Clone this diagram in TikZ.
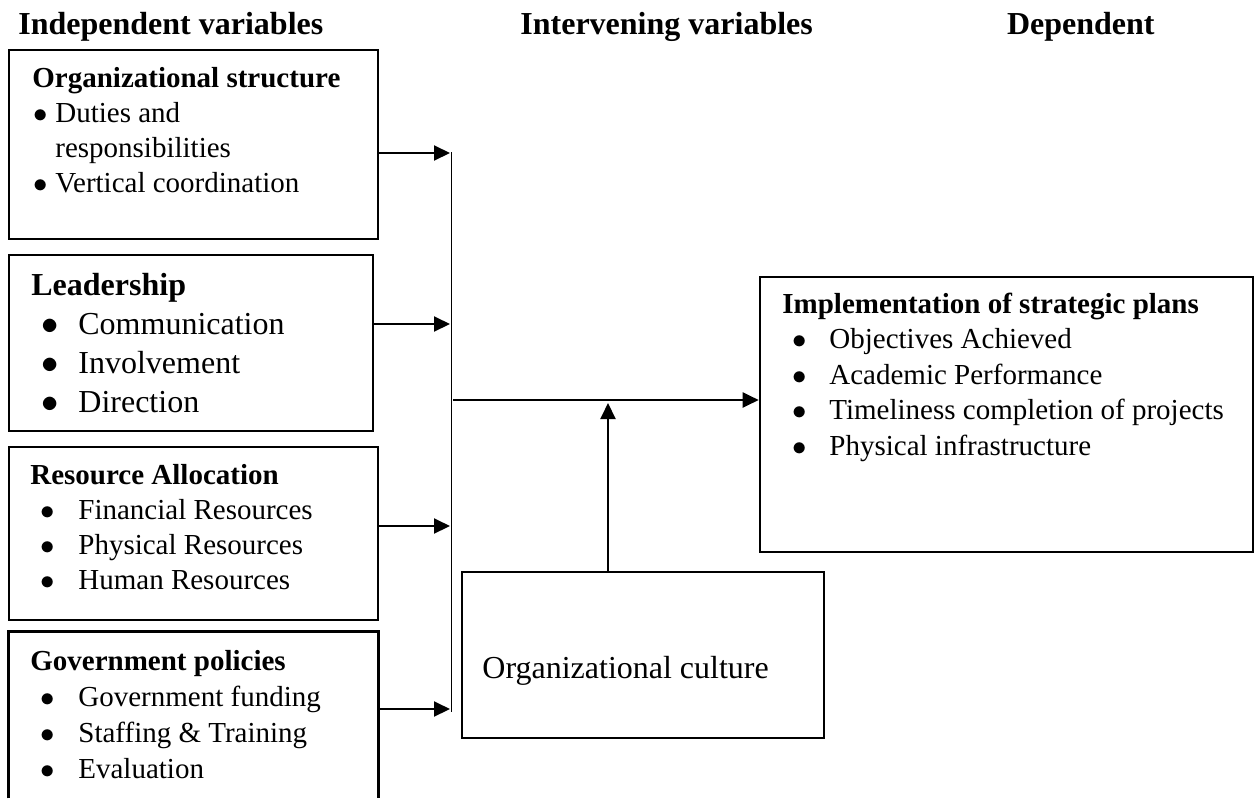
\documentclass[tikz,border=0pt]{standalone}
\usepackage{fontspec}
\setmainfont{Liberation Serif}
\usetikzlibrary{arrows.meta}
\tikzset{
  thickbox/.style={draw, line width=1.3pt, inner sep=0pt},
  thinbox/.style={draw, line width=0.7pt, inner sep=0pt},
  txt/.style={anchor=base west, align=left, inner sep=0pt,
    font=\fontsize{14.5pt}{17.5pt}\selectfont},
  bigtxt/.style={txt, font=\fontsize{16pt}{19.5pt}\selectfont},
  head/.style={anchor=base west, inner sep=0pt,
    font=\fontsize{16pt}{19pt}\selectfont\bfseries},
  feed/.style={line width=1pt, -{Triangle[length=8pt,width=7.5pt]}},
}
\newcommand\itm[2]{\hspace*{#1}\makebox[#2][l]{$\bullet$}}
\begin{document}
\begin{tikzpicture}[x=0.5pt, y=-0.5pt]
  \useasboundingbox (0,0) rectangle (1256,798);
  % column titles
  \node[head] (hind) at (18,34) {Independent variables};
  \node[head] (hint) at (520,34) {Intervening variables};
  \node[head, anchor=base east] (hdep) at (1155,34) {Dependent};
  % independent variables
  \node[thickbox, minimum width=184.5pt, minimum height=94.5pt] (orgs) at (193.5,144.5) {};
  \node[thickbox, minimum width=182pt, minimum height=88pt] (lead) at (191,343) {};
  \node[thinbox, minimum width=184.5pt, minimum height=86.5pt] (res) at (193.5,533.5) {};
  \node[inner sep=0pt, minimum width=184.5pt, minimum height=83pt] (govp) at (193.5,715) {};
  \draw[line width=1.3pt] (govp.south west) -- (govp.north west) -- (govp.north east) -- (govp.south east);
  \node[txt] (orgst) at (32,192) {\textbf{Organizational structure}\\
    \itm{0.5pt}{11pt}Duties and\\
    \hspace*{11.5pt}responsibilities\\
    \itm{0.5pt}{11pt}Vertical coordination};
  \node[bigtxt] (leadt) at (31,412) {\textbf{Leadership}\\
    \itm{5pt}{18.5pt}Communication\\
    \itm{5pt}{18.5pt}Involvement\\
    \itm{5pt}{18.5pt}Direction};
  \node[txt] (rest) at (30,589) {\textbf{Resource Allocation}\\
    \itm{5pt}{19pt}Financial Resources\\
    \itm{5pt}{19pt}Physical Resources\\
    \itm{5pt}{19pt}Human Resources};
  \node[txt, font=\fontsize{14.5pt}{18pt}\selectfont] (govt) at (30,778) {\textbf{Government policies}\\
    \itm{5pt}{19pt}Government funding\\
    \itm{5pt}{19pt}Staffing \& Training\\
    \itm{5pt}{19pt}Evaluation};
  % intervening and dependent
  \node[thinbox, minimum width=181pt, minimum height=83pt] (culture) at (643,655) {};
  \node[bigtxt] (cult) at (482,678) {Organizational culture};
  \node[thickbox, minimum width=246.5pt, minimum height=137.5pt] (impl) at (1006.5,414.5) {};
  \node[txt, font=\fontsize{14.5pt}{17.75pt}\selectfont] (implt) at (782,455) {\textbf{Implementation of strategic plans}\\
    \itm{5pt}{18.5pt}Objectives Achieved\\
    \itm{5pt}{18.5pt}Academic Performance\\
    \itm{5pt}{18.5pt}Timeliness completion of projects\\
    \itm{5pt}{18.5pt}Physical infrastructure};
  % collecting line and arrows
  \coordinate (bustop) at (451,152);
  \coordinate (busbot) at (451,712);
  \draw[line width=0.5pt] (bustop) -- (busbot);
  \coordinate (in1) at (450,153);
  \coordinate (in2) at (450,324);
  \coordinate (in3) at (450,526);
  \coordinate (in4) at (450,709);
  \draw[feed] (orgs.east |- in1) -- (in1);
  \draw[feed] (lead.east |- in2) -- (in2);
  \draw[feed] (res.east |- in3) -- (in3);
  \draw[feed] (govp.east |- in4) -- (in4);
  \coordinate (outp) at (453,400);
  \draw[feed] (outp) -- (outp -| impl.west);
  \coordinate (upt) at (608,403);
  \draw[feed] (culture.north -| upt) -- (upt);
\end{tikzpicture}
\end{document}
